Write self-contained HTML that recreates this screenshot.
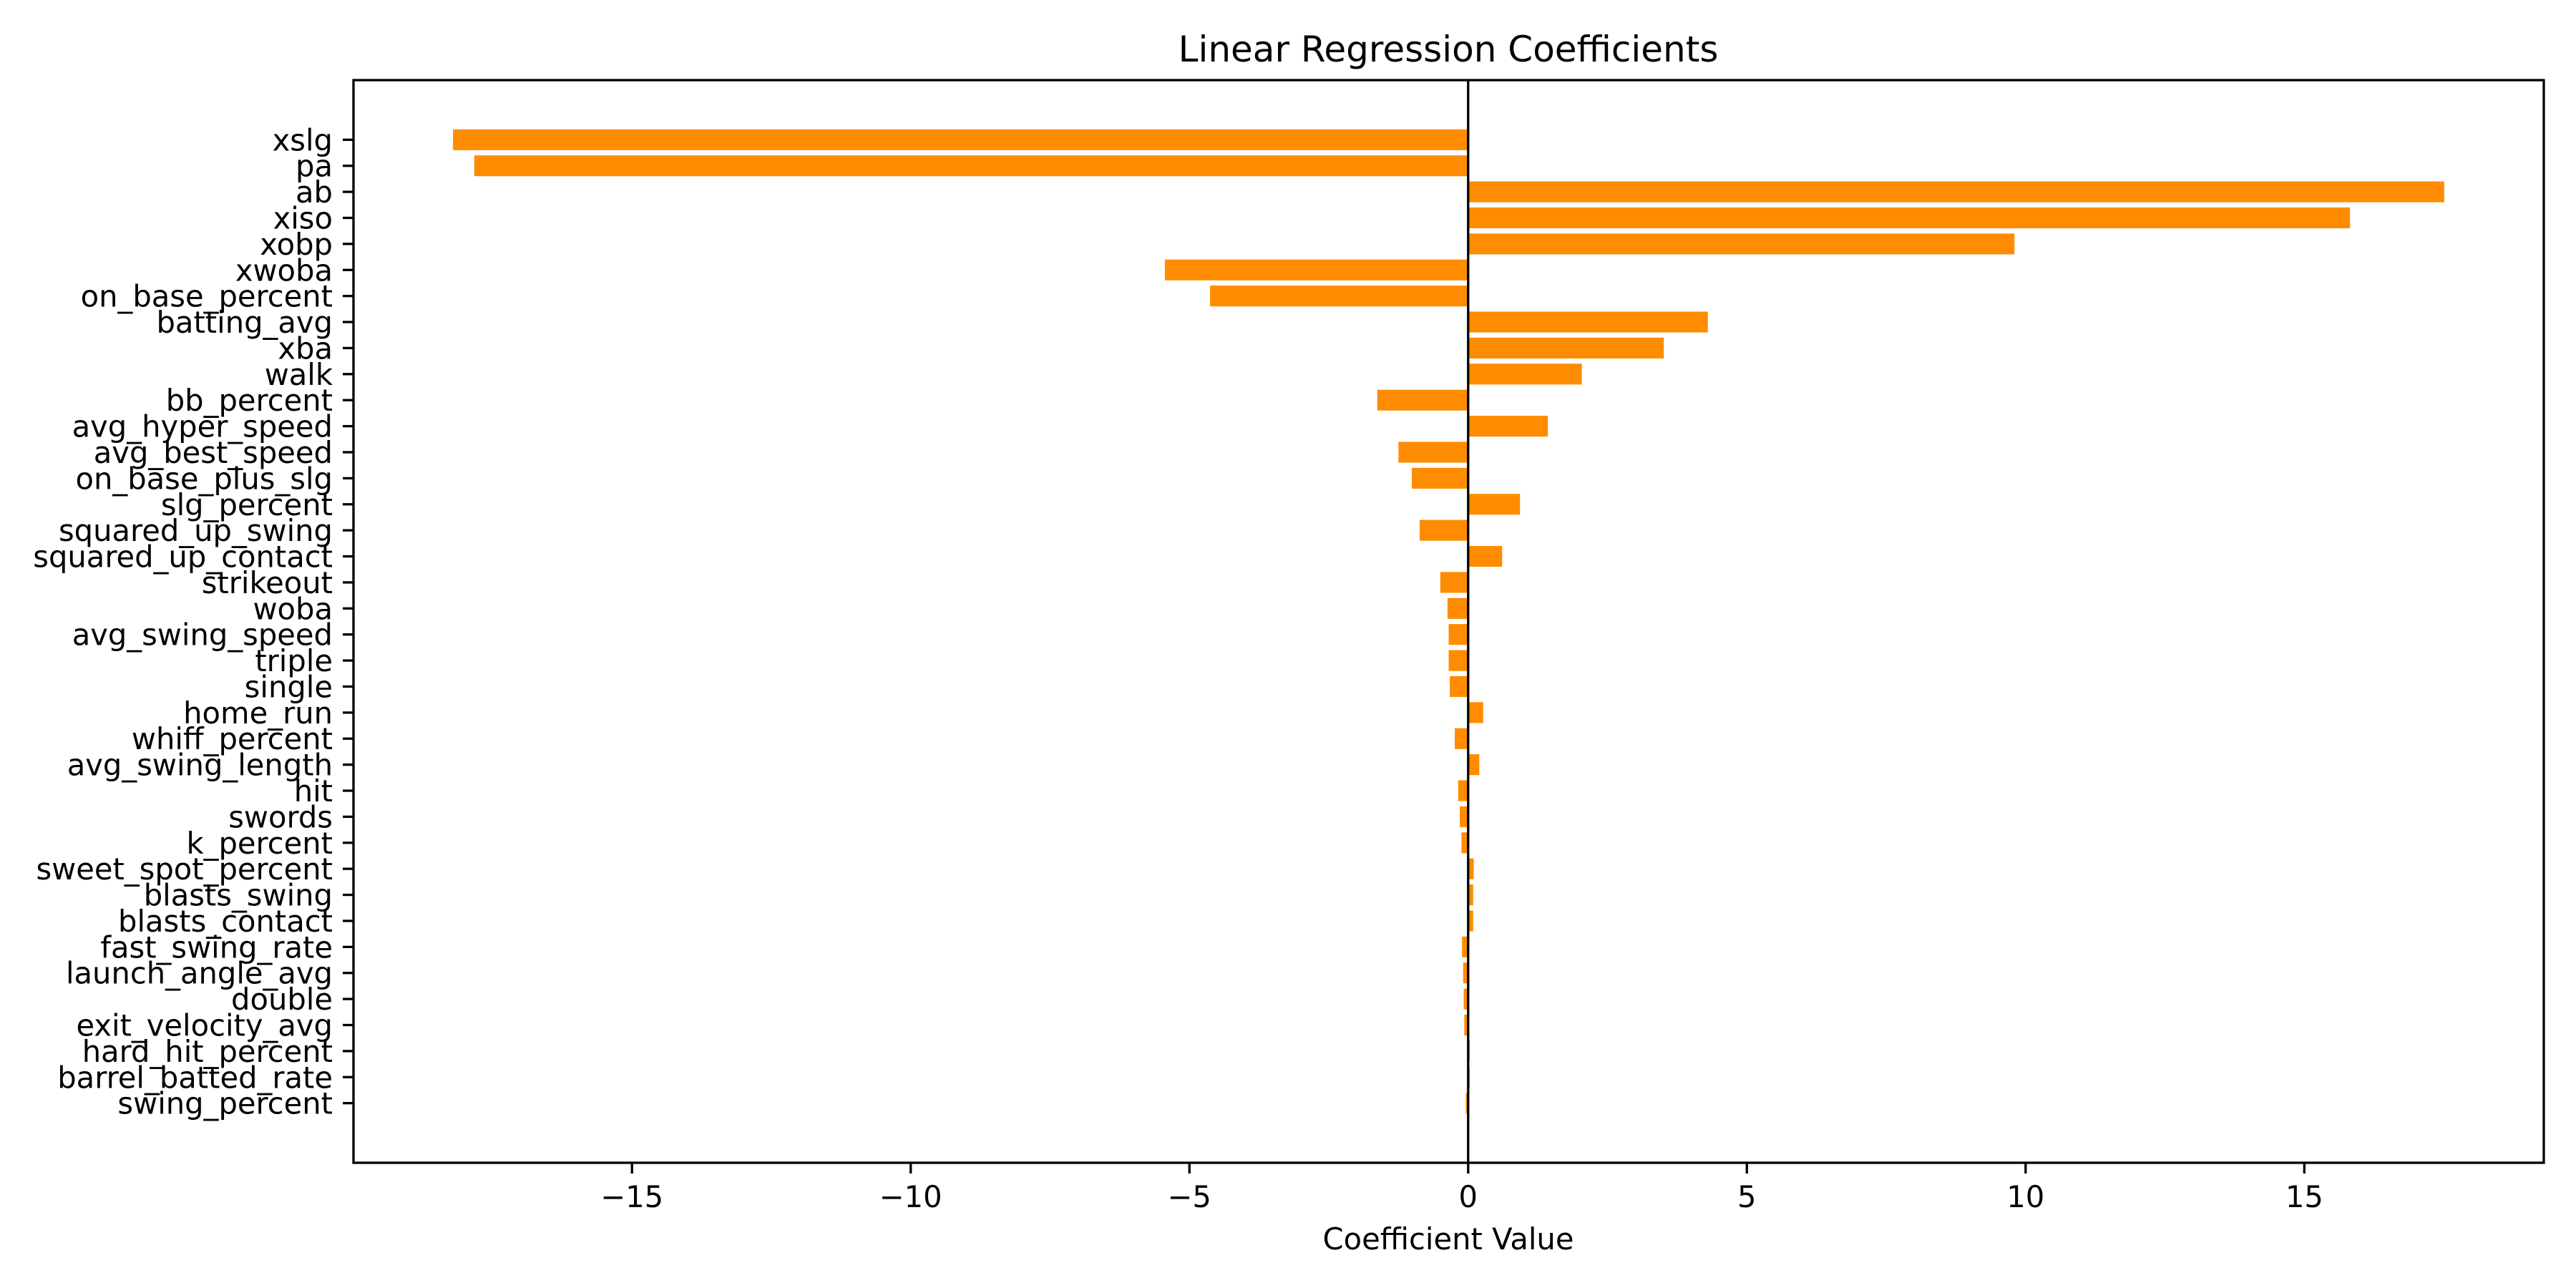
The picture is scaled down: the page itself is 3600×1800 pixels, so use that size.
<!DOCTYPE html>
<html><head><meta charset="utf-8"><style>
html,body{margin:0;padding:0;background:#fff;}
svg{display:block;font-family:"DejaVu Sans","Liberation Sans",sans-serif;}
</style></head><body>
<svg id="chart" width="3600" height="1800" viewBox="0 0 3600 1800" xmlns="http://www.w3.org/2000/svg">
<rect width="3600" height="1800" fill="#fff"/>
<text x="2024" y="86" font-size="50" text-anchor="middle">Linear Regression Coefficients</text>
<g id="bars"></g>
<g id="yticks"></g>
<g id="xticks"></g>
<text x="2024" y="1746" font-size="41.67" text-anchor="middle">Coefficient Value</text>
</svg>
<script>
const categories = ["xslg","pa","ab","xiso","xobp","xwoba","on_base_percent","batting_avg","xba","walk","bb_percent","avg_hyper_speed","avg_best_speed","on_base_plus_slg","slg_percent","squared_up_swing","squared_up_contact","strikeout","woba","avg_swing_speed","triple","single","home_run","whiff_percent","avg_swing_length","hit","swords","k_percent","sweet_spot_percent","blasts_swing","blasts_contact","fast_swing_rate","launch_angle_avg","double","exit_velocity_avg","hard_hit_percent","barrel_batted_rate","swing_percent"];
const values = [-18.21,-17.83,17.51,15.82,9.80,-5.44,-4.63,4.30,3.51,2.04,-1.63,1.43,-1.25,-1.01,0.93,-0.87,0.61,-0.50,-0.37,-0.35,-0.35,-0.33,0.27,-0.24,0.20,-0.18,-0.15,-0.12,0.10,0.09,0.09,-0.11,-0.09,-0.08,-0.07,0.03,0.03,-0.04];
const xTicks = [-15,-10,-5,0,5,10,15];
const xTickLabels = ["\u221215","\u221210","\u22125","0","5","10","15"];

const NS = "http://www.w3.org/2000/svg";
const L = 494, R = 3555, T = 112, B = 1625;
let vmin = Math.min(0, ...values), vmax = Math.max(0, ...values);
const mx = (vmax - vmin) * 0.05;
const xmin = vmin - mx, xmax = vmax + mx;
const n = categories.length;
const ymin = -0.4 - (n - 1 + 0.8) * 0.05, ymax = n - 1 + 0.4 + (n - 1 + 0.8) * 0.05;
function xs(v){ return L + (v - xmin) / (xmax - xmin) * (R - L); }
function ys(i){ return T + (i - ymin) / (ymax - ymin) * (B - T); }
function mk(tag, attrs, parent){ const e = document.createElementNS(NS, tag); for (const k in attrs) e.setAttribute(k, attrs[k]); parent.appendChild(e); return e; }

const gb = document.getElementById('bars');
const gy = document.getElementById('yticks');
const gx = document.getElementById('xticks');
const bh = 0.8 * (B - T) / (ymax - ymin);
categories.forEach((c, i) => {
  const v = values[i];
  const x0 = xs(Math.min(0, v)), x1 = xs(Math.max(0, v));
  const r = mk('rect', {x: x0, y: ys(i) - bh / 2, width: Math.max(x1 - x0, 0.5), height: bh, fill: '#ff8c00'}, gb);
  
  
  const tk = mk('line', {x1: L - 15, x2: L, y1: ys(i), y2: ys(i), stroke: '#000', 'stroke-width': 3.3}, gy);
  
  
  const t = mk('text', {x: L - 29, y: ys(i) + 15, 'font-size': 41.67, 'text-anchor': 'end'}, gy);
  t.textContent = c;
  
  
});
// zero line
const zl = mk('line', {x1: xs(0), x2: xs(0), y1: T, y2: B, stroke: '#000', 'stroke-width': 3.3}, gb);


xTicks.forEach((v, i) => {
  const tk = mk('line', {x1: xs(v), x2: xs(v), y1: B, y2: B + 15, stroke: '#000', 'stroke-width': 3.3}, gx);
  
  
  const t = mk('text', {x: xs(v), y: B + 62, 'font-size': 41.67, 'text-anchor': 'middle'}, gx);
  t.textContent = xTickLabels[i];
  
  
});
const frame = mk('rect', {x: L, y: T, width: R - L, height: B - T, fill: 'none', stroke: '#000', 'stroke-width': 3.3}, document.getElementById('chart'));


</script>
</body></html>
